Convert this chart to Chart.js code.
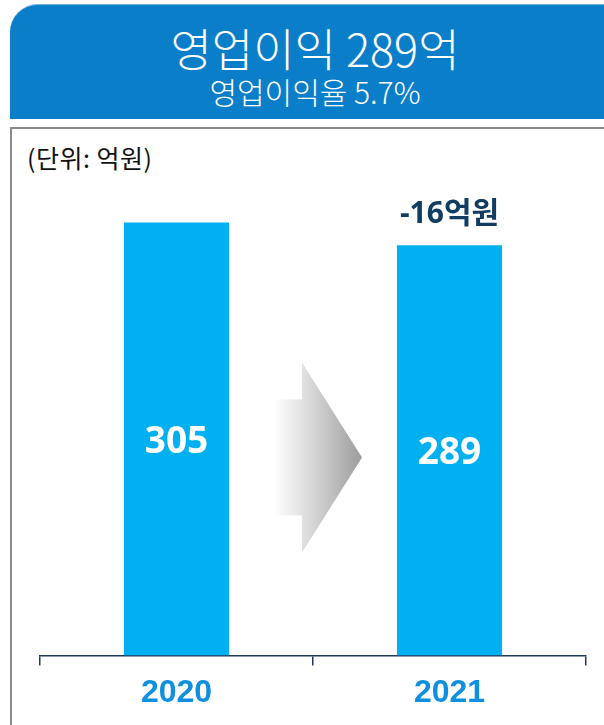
<!DOCTYPE html>
<html>
<head>
<meta charset="utf-8">
<script src="https://cdn.jsdelivr.net/npm/chart.js@4"></script>
<style>
  body { margin: 0; width: 604px; height: 725px; overflow: hidden; background: #fff; position: relative; font-family: "Noto Sans CJK KR", sans-serif; }
  #header { position: absolute; left: 10px; top: 4px; width: 610px; height: 114px; background: #0a7ec9; border-top-left-radius: 28px; border-top: 1px solid #6fb3e2; color: #fff; text-align: center; }
  #title { position: absolute; left: 0; right: 0; top: 19px; font-size: 45px; line-height: 48px; font-weight: 300; }
  #subtitle { position: absolute; left: 0; right: 0; top: 70px; font-size: 30px; line-height: 32px; font-weight: 300; }
  #box { position: absolute; left: 10px; top: 127px; width: 640px; height: 640px; border: 2px solid #8a8a8a; }
  #unit { position: absolute; left: 27px; top: 142px; font-size: 25px; line-height: 30px; color: #111; letter-spacing: 0.5px; }
  #chart { position: absolute; left: 0; top: 0; }
</style>
</head>
<body>
<div id="header">
  <div id="title">영업이익 289억</div>
  <div id="subtitle">영업이익율 5.7%</div>
</div>
<div id="box"></div>
<div id="unit">(단위: 억원)</div>
<canvas id="chart" width="604" height="725"></canvas>
<script>
const years = ["2020", "2021"];
const profit = [305, 289];
const changeLabel = "-16억원";
const yMax = 335;

const navy = "#1f3a5c";

// gradient arrow between the bars + value labels
const decorations = {
  id: "decorations",
  beforeDatasetsDraw(chart) {
    const { ctx, chartArea, scales } = chart;
    const mid = (scales.x.getPixelForValue(0) + scales.x.getPixelForValue(1)) / 2;
    const cy = chartArea.bottom - 198;
    const left = mid - 39, base = mid - 11, tip = mid + 49;
    const grad = ctx.createLinearGradient(left, 0, tip, 0);
    grad.addColorStop(0, "rgba(255,255,255,1)");
    grad.addColorStop(0.4, "#dadada");
    grad.addColorStop(1, "#9c9c9c");
    ctx.save();
    ctx.fillStyle = grad;
    ctx.beginPath();
    ctx.moveTo(left, cy - 58);
    ctx.lineTo(base, cy - 58);
    ctx.lineTo(base, cy - 95);
    ctx.lineTo(tip, cy);
    ctx.lineTo(base, cy + 95);
    ctx.lineTo(base, cy + 58);
    ctx.lineTo(left, cy + 58);
    ctx.closePath();
    ctx.fill();
    ctx.restore();
  },
  afterDatasetsDraw(chart) {
    const { ctx } = chart;
    const bars = chart.getDatasetMeta(0).data;
    ctx.save();
    ctx.textAlign = "center";
    ctx.textBaseline = "middle";
    ctx.fillStyle = "#fff";
    ctx.font = "bold 37px 'Open Sans'";
    bars.forEach((bar, i) => {
      ctx.fillText(String(profit[i]), bar.x, (bar.y + bar.base) / 2 + 3);
    });
    const last = bars[bars.length - 1];
    ctx.fillStyle = "#123d62";
    ctx.font = "bold 30px 'Open Sans', 'Noto Sans CJK KR'";
    ctx.fillText(changeLabel, last.x, last.y - 31);
    ctx.restore();
  },
};

new Chart(document.getElementById("chart"), {
  type: "bar",
  data: {
    labels: years,
    datasets: [
      {
        data: profit,
        backgroundColor: "#00b0f0",
        categoryPercentage: 1,
        barPercentage: 0.385,
      },
    ],
  },
  options: {
    responsive: false,
    animation: false,
    layout: { padding: { left: 40, right: 18, top: 180, bottom: 5 } },
    plugins: { legend: { display: false }, tooltip: { enabled: false } },
    scales: {
      y: { display: false, min: 0, max: yMax },
      x: {
        offset: true,
        grid: { offset: true, drawOnChartArea: false, tickLength: 10, color: navy, lineWidth: 1.5 },
        border: { color: navy, width: 1.5 },
        ticks: {
          color: "#0e8fe0",
          padding: 8,
          font: { family: "Liberation Sans", size: 32, weight: "bold" },
        },
      },
    },
  },
  plugins: [decorations],
});
</script>
</body>
</html>
